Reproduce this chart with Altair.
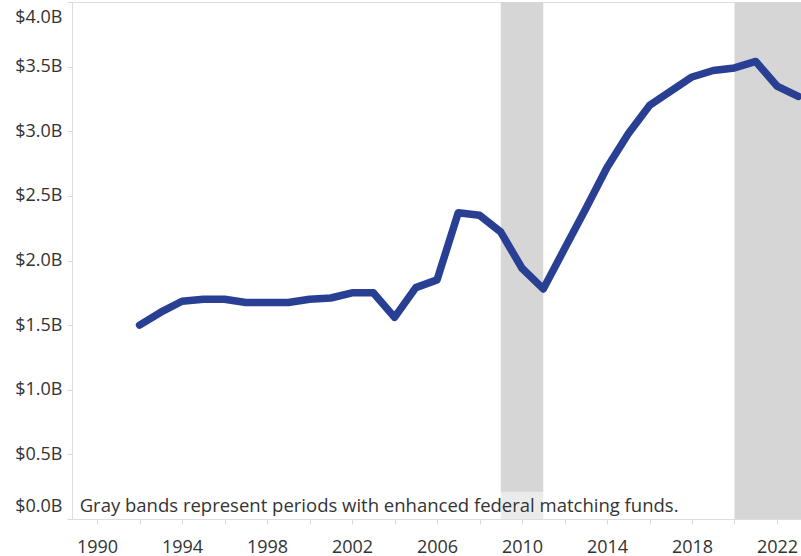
import altair as alt
import pandas as pd

years = list(range(1992, 2024))
values = [1.50, 1.60, 1.685, 1.70, 1.70, 1.675, 1.675, 1.675, 1.70, 1.71,
          1.75, 1.75, 1.56, 1.79, 1.85, 2.37, 2.35, 2.22, 1.94, 1.78,
          2.09, 2.40, 2.72, 2.98, 3.20, 3.31, 3.42, 3.47, 3.49, 3.54,
          3.35, 3.27]

band_start = [2009, 2020]
band_end = [2011, 2023.13]

note_text = ["Gray bands represent periods with enhanced federal matching funds."]

x_domain = [1988.82, 2023.13]
y_ticks = [0, 0.5, 1.0, 1.5, 2.0, 2.5, 3.0, 3.5, 4.0]
x_ticks = list(range(1990, 2023, 2))

FONT = "Open Sans"
TXT = "#333333"
FS = 18

df = pd.DataFrame({"year": years, "value": values})
bands = pd.DataFrame({"x": band_start, "x2": band_end, "y": [0] * 2, "y2": [4] * 2})
note = pd.DataFrame({"x": [1989.18], "y": [0.10], "text": note_text})
notebox = pd.DataFrame({"x": [1988.95], "x2": [2017.6], "y": [0], "y2": [0.21]})

xscale = alt.Scale(domain=x_domain, nice=False, zero=False)
yscale = alt.Scale(domain=[0, 4], nice=False)

xaxis = alt.Axis(values=x_ticks, title=None, grid=False, domain=False,
                 tickColor="#d9d9d9", tickSize=5,
                 labelExpr="datum.value % 4 == 2 ? format(datum.value, 'd') : ''",
                 labelFont=FONT, labelFontSize=FS, labelColor=TXT, labelPadding=14,
                 labelFlush=False)
yaxis = alt.Axis(values=y_ticks, title=None, grid=False, domain=False,
                 tickColor="#d9d9d9", tickSize=5,
                 labelExpr="'$' + format(datum.value, '.1f') + 'B'",
                 labelFont=FONT, labelFontSize=FS, labelColor=TXT, labelPadding=5,
                 labelFlush=False,
                 labelOffset={"condition": [{"test": "datum.value >= 4", "value": 15},
                                            {"test": "datum.value <= 0", "value": -13}],
                              "value": 0})

band_layer = alt.Chart(bands).mark_rect(color="#d6d6d6").encode(
    x=alt.X("x:Q", scale=xscale, axis=xaxis),
    x2="x2:Q",
    y=alt.Y("y:Q", scale=yscale, axis=yaxis),
    y2="y2:Q",
)

box_layer = alt.Chart(notebox).mark_rect(color="white", opacity=0.5).encode(
    x=alt.X("x:Q", scale=xscale), x2="x2:Q",
    y=alt.Y("y:Q", scale=yscale), y2="y2:Q",
)

line_layer = alt.Chart(df).mark_line(color="#283f93", strokeWidth=7.5,
                                     strokeJoin="round", strokeCap="round",
                                     clip=True).encode(
    x=alt.X("year:Q", scale=xscale),
    y=alt.Y("value:Q", scale=yscale),
)

note_layer = alt.Chart(note).mark_text(align="left", baseline="middle",
                                       font=FONT, fontSize=18.5, color=TXT).encode(
    x=alt.X("x:Q", scale=xscale),
    y=alt.Y("y:Q", scale=yscale),
    text="text:N",
)

chart = alt.layer(band_layer, box_layer, line_layer, note_layer).properties(
    width=729, height=517,
    autosize=alt.AutoSizeParams(type="none"),
    padding={"left": 72, "top": 2, "right": 0, "bottom": 37},
).configure_view(stroke=None).configure(background="white")

chart.save("out.html", embed_options={"renderer": "svg", "actions": False})
